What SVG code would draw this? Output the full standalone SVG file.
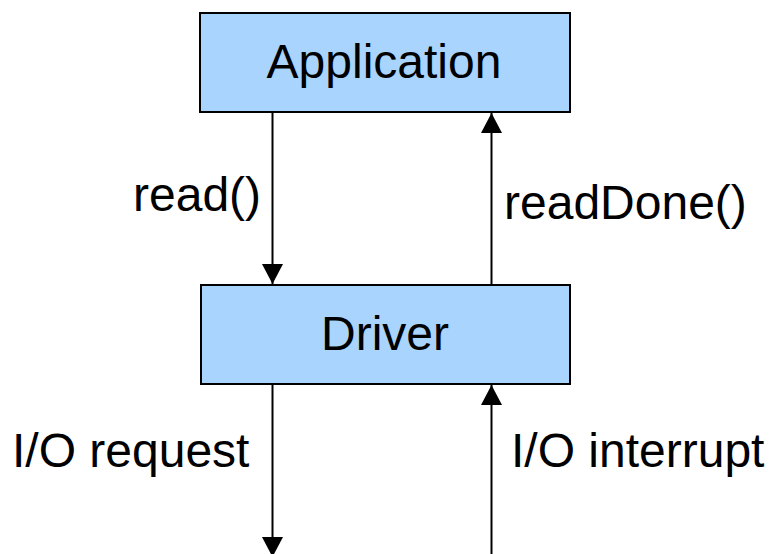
<svg xmlns="http://www.w3.org/2000/svg" width="771" height="554" viewBox="0 0 771 554">
<defs>
<style>
.box{fill:#a9d4fe;stroke:#000;stroke-width:2}
.t{font-family:"Liberation Sans",Arial,sans-serif;font-size:48px;fill:#000}
.c{text-anchor:middle}
.ln{stroke:#000;stroke-width:2;fill:none}
</style>
<marker id="ah" markerUnits="userSpaceOnUse" markerWidth="20" markerHeight="21" refX="20" refY="10.5" orient="auto" viewBox="0 0 20 21">
<path d="M0,0 L20,10.5 L0,21 Z" fill="#000"/>
</marker>
</defs>
<rect width="771" height="554" fill="#fff"/>
<g id="connectors">
<line class="ln" x1="272.5" y1="112" x2="272.5" y2="284" marker-end="url(#ah)"/>
<line class="ln" x1="491.5" y1="285" x2="491.5" y2="113" marker-end="url(#ah)"/>
<line class="ln" x1="272.5" y1="384" x2="272.5" y2="557" marker-end="url(#ah)"/>
<line class="ln" x1="491.5" y1="556" x2="491.5" y2="385" marker-end="url(#ah)"/>
<text class="t" x="133" y="211">read()</text>
<text class="t" x="504" y="219">readDone()</text>
<text class="t" x="12" y="467">I/O request</text>
<text class="t" x="511" y="467">I/O interrupt</text>
</g>
<g id="application">
<rect class="box" x="200" y="13" width="370" height="99"/>
<text class="t c" x="384" y="78">Application</text>
</g>
<g id="driver">
<rect class="box" x="201" y="285" width="369" height="99"/>
<text class="t c" x="385" y="350">Driver</text>
</g>
</svg>
